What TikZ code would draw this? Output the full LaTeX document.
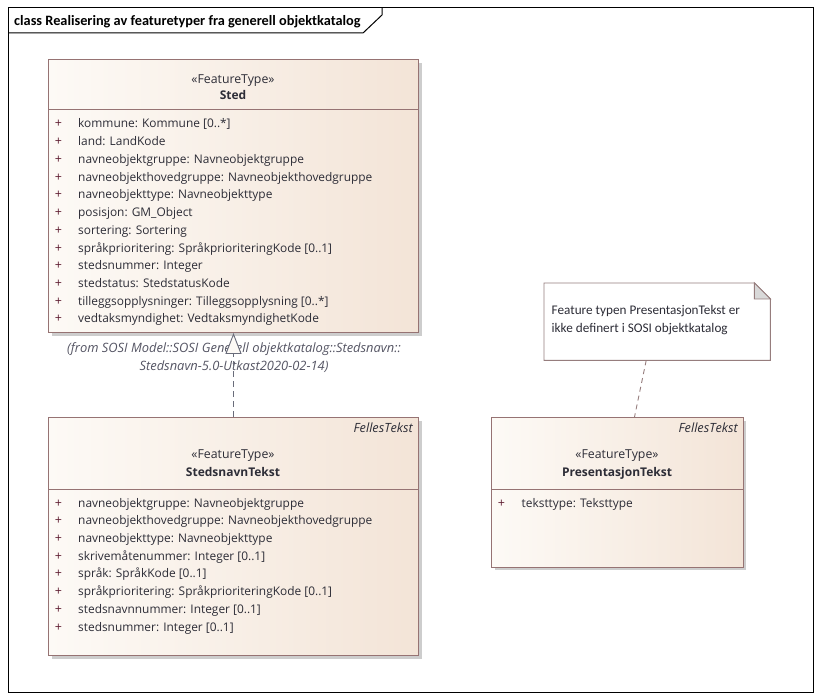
\documentclass[tikz,border=0pt]{standalone}
\usepackage{fontspec}
\setmainfont{Open Sans}
\newfontfamily\calfont{Carlito}
\usetikzlibrary{arrows.meta,calc}
\definecolor{bord}{RGB}{150,115,115}
\definecolor{fillL}{RGB}{253,250,246}
\definecolor{fillR}{RGB}{243,228,215}
\definecolor{txt}{RGB}{45,45,55}
\definecolor{plusc}{RGB}{95,30,50}
\definecolor{shad}{RGB}{205,205,205}
\definecolor{fromc}{RGB}{85,85,100}
\definecolor{realc}{RGB}{105,108,122}
\definecolor{notec}{RGB}{150,125,125}
\begin{document}
\begin{tikzpicture}[x=1pt,y=-1pt,
  classbox/.style={draw=bord, line width=1pt, left color=fillL, right color=fillR, anchor=north west, inner sep=0pt},
  shadowbox/.style={fill=shad, draw=none},
  sepline/.style={draw=bord, line width=0.9pt},
  stereo/.style={font=\fontsize{12.3}{14}\selectfont, text=txt, anchor=base, inner sep=0pt},
  cname/.style={font=\bfseries\fontsize{12}{14}\selectfont, text=txt, anchor=base, inner sep=0pt},
  attr/.style={font=\fontsize{11.9}{14}\selectfont, text=txt, anchor=base west, inner sep=0pt},
  plusn/.style={font=\fontsize{12.5}{14}\selectfont, text=plusc, anchor=base, inner sep=0pt},
  tagtext/.style={font=\itshape\fontsize{12.7}{14}\selectfont, text=txt, anchor=base east, inner sep=0pt},
  fromtext/.style={font=\itshape\fontsize{12.9}{14}\selectfont, text=fromc, anchor=base, inner sep=0pt},
  notetext/.style={font=\calfont\fontsize{13.2}{15}\selectfont, text=txt, anchor=base west, inner sep=0pt},
  realize/.style={draw=realc, line width=0.9pt, dash pattern=on 6pt off 4pt, -{Triangle[length=21pt,width=16pt,fill=fillL,line width=0.9pt]}},
  notelink/.style={draw=notec, line width=0.9pt, dash pattern=on 5pt off 4pt}
]
\useasboundingbox (0,0) rectangle (822,700);
\fill[white] (0,0) rectangle (822,700);

% frame
\draw[black, line width=1pt] (8,8) rectangle (813,692);
\draw[black, line width=1pt] (8,33) -- (363,33) -- (382,15) -- (382,8);
\node[font=\calfont\bfseries\fontsize{14.3}{16}\selectfont, anchor=base west, inner sep=0pt] (title) at (14,26) {class Realisering av featuretyper fra generell objektkatalog};

% Sted
\fill[shadowbox] (52,63) rectangle (422,336);
\node[classbox, minimum width=370pt, minimum height=273pt] (sted) at (48,59) {};
\draw[sepline] (48,109) -- (418,109);
\node[stereo] (stedst) at (233,84) {«FeatureType»};
\node[cname] (stedname) at (233,100) {Sted};
\foreach \t [count=\i from 0] in {kommune: Kommune [0..*], land: LandKode, navneobjektgruppe: Navneobjektgruppe, navneobjekthovedgruppe: Navneobjekthovedgruppe, navneobjekttype: Navneobjekttype, posisjon: GM\_Object, sortering: Sortering, språkprioritering: SpråkprioriteringKode [0..1], stedsnummer: Integer, stedstatus: StedstatusKode, tilleggsopplysninger: Tilleggsopplysning [0..*], vedtaksmyndighet: VedtaksmyndighetKode}{
  \node[plusn] (stedp\i) at (58.5,128+17.72*\i) {+};
  \node[attr] (steda\i) at (78,128+17.72*\i) {\t};
}

% from text
\node[fromtext] (from1) at (234,353) {(from SOSI Model::SOSI Generell objektkatalog::Stedsnavn::};
\node[fromtext] (from2) at (234,371) {Stedsnavn-5.0-Utkast2020-02-14)};

% StedsnavnTekst
\fill[shadowbox] (52,421) rectangle (422,659);
\node[classbox, minimum width=370pt, minimum height=238pt] (snt) at (48,417) {};
\draw[sepline] (48,489) -- (418,489);
\node[tagtext] (snttag) at (413,432) {FellesTekst};
\node[stereo] (sntst) at (233,458) {«FeatureType»};
\node[cname] (sntname) at (233,476) {StedsnavnTekst};
\foreach \t [count=\i from 0] in {navneobjektgruppe: Navneobjektgruppe, navneobjekthovedgruppe: Navneobjekthovedgruppe, navneobjekttype: Navneobjekttype, skrivemåtenummer: Integer [0..1], språk: SpråkKode [0..1], språkprioritering: SpråkprioriteringKode [0..1], stedsnavnnummer: Integer [0..1], stedsnummer: Integer [0..1]}{
  \node[plusn] (sntp\i) at (58.5,507+17.72*\i) {+};
  \node[attr] (snta\i) at (78,507+17.72*\i) {\t};
}

% realization
\draw[realize] (snt.north) -- (sted.south);

% note
\node[minimum width=226pt, minimum height=77pt, anchor=north west, inner sep=0pt] (note) at (544,283) {};
\draw[draw=notec, line width=0.9pt, fill=white] (note.north west) -- ($(note.north east)+(-16,0)$) -- ($(note.north east)+(0,16)$) -- (note.south east) -- (note.south west) -- cycle;
\filldraw[draw=notec, line width=0.9pt, fill=black!15] ($(note.north east)+(-16,0)$) -- ($(note.north east)+(-16,16)$) -- ($(note.north east)+(0,16)$) -- cycle;
\node[notetext] (nt1) at (551.5,315) {Feature typen PresentasjonTekst er};
\node[notetext] (nt2) at (551.5,333) {ikke definert i SOSI objektkatalog};

% PresentasjonTekst
\fill[shadowbox] (495,421) rectangle (746,570);
\node[classbox, minimum width=252pt, minimum height=150pt] (pt) at (491,417) {};
\draw[sepline] (491,489) -- (743,489);
\node[tagtext] (pttag) at (738,432) {FellesTekst};
\node[stereo] (ptst) at (617,458) {«FeatureType»};
\node[cname] (ptname) at (617,476) {PresentasjonTekst};
\node[plusn] (ptp0) at (501.5,507) {+};
\node[attr] (pta0) at (521.5,507) {teksttype: Teksttype};

% note link
\draw[notelink] ($(note.south)+(-11,0)$) -- ($(pt.north)+(17,0)$);
\end{tikzpicture}
\end{document}
